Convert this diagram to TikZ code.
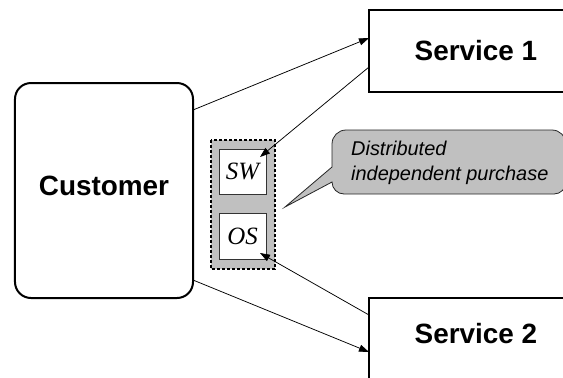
\documentclass[tikz,border=0pt]{standalone}
\usepackage{fontspec}
\setmainfont{Liberation Sans}
\newfontfamily\timesfont{Liberation Serif}
\usetikzlibrary{arrows.meta,calc}

\definecolor{panelgray}{HTML}{C0C0C0}

\tikzset{
  bigbox/.style={draw=black, line width=2bp, fill=white, inner sep=0pt, outer sep=0pt,
    font=\fontsize{28}{32}\selectfont\bfseries},
  custbox/.style={bigbox, rounded corners=16bp},
  ticket/.style={draw=black!80, line width=0.8bp, fill=white, inner sep=0pt, outer sep=0pt,
    minimum width=47bp, font=\timesfont\fontsize{25}{30}\selectfont\itshape},
  wallet/.style={draw=black, line width=1.3bp, dash pattern=on 3bp off 2bp, fill=panelgray},
  link/.style={draw=black, line width=0.75bp, -{Triangle[length=10bp,width=7bp]}},
  bubble/.style={draw=black!85, line width=0.8bp, fill=panelgray},
  bubbletext/.style={font=\fontsize{20}{25}\selectfont\itshape, align=left, inner sep=0pt}
}

\begin{document}
\begin{tikzpicture}[x=1bp, y=-1bp]
  \useasboundingbox (0,0) rectangle (563,377);
  \fill[white] (0,0) rectangle (563,377);
  \clip (0,0) rectangle (563,377);

  % actors
  \node[custbox, minimum width=178bp, minimum height=215bp, text depth=9bp]
    (cust) at (104,190.5) {Customer};
  \node[bigbox, minimum width=214bp, minimum height=82bp]
    (s1) at (476,51) {Service 1};
  \node[bigbox, minimum width=214bp, minimum height=90bp, text depth=19bp]
    (s2) at (476,343) {Service 2};

  % wallet holding the two tickets
  \draw[wallet] (211,140) rectangle (275,269);
  \node[ticket, minimum height=45bp] (sw) at (242.5,171.5) {SW};
  \node[ticket, minimum height=46bp] (os) at (242.5,236) {OS};

  % callout
  \draw[bubble] (332,167) -- (285,207) -- (332,182)
    .. controls (332,188.6) and (337.4,194) .. (344,194) -- (554,194)
    .. controls (560.6,194) and (566,188.6) .. (566,182) -- (566,144)
    .. controls (566,136.3) and (559.7,130) .. (552,130) -- (346,130)
    .. controls (338.3,130) and (332,136.3) .. (332,144) -- cycle;
  % the base anchor of a multi-line node sits on its last line
  \node[bubbletext, anchor=base west] (note) at (351,180)
    {Distributed\\independent purchase};

  % connectors
  \draw[link] ($(cust.north east)+(0,27)$) -- ($(s1.north west)+(0,28)$);
  \draw[link] ($(cust.south east)+(0,-18)$) -- ($(s2.north west)+(0,54)$);
  \draw[link] ($(s1.north west)+(0,57)$) -- ($(sw.north east)+(-6,8)$);
  \draw[link] ($(s2.north west)+(0,17)$) -- ($(os.south east)+(-6,-6)$);
\end{tikzpicture}
\end{document}
